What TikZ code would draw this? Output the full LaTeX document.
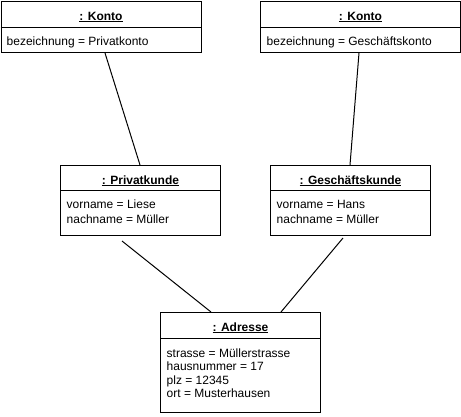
\documentclass[tikz,border=0pt]{standalone}
\usepackage{fontspec}
\setmainfont{Liberation Sans}
\usetikzlibrary{calc}
\tikzset{
  objbox/.style={draw=black, line width=1pt, fill=white, anchor=north west, inner sep=0pt},
  titletxt/.style={inner sep=0pt, anchor=mid, font=\fontsize{12}{14}\selectfont\bfseries},
  attrtxt/.style={inner sep=0pt, anchor=mid west, font=\fontsize{12}{14}\selectfont},
  link/.style={draw=black, line width=1pt}
}
\newcommand{\objtitle}[1]{\underline{#1}}
\begin{document}
\begin{tikzpicture}[x=1pt,y=-1pt]
\useasboundingbox[fill=white] (0,0) rectangle (461,416);
% Konto 1
\node[objbox, minimum width=200pt, minimum height=51pt] (k1) at (0.5,1) {};
\draw[link] ($(k1.north west)+(0,26)$) -- ($(k1.north east)+(0,26)$);
\node[titletxt] (k1t) at ($(k1.north)+(0,16.5)$) {\objtitle{: Konto}};
\node[attrtxt] (k1a) at (6.5,42.5) {bezeichnung = Privatkonto};
% Konto 2
\node[objbox, minimum width=200pt, minimum height=51pt] (k2) at (260,1) {};
\draw[link] ($(k2.north west)+(0,26)$) -- ($(k2.north east)+(0,26)$);
\node[titletxt] (k2t) at ($(k2.north)+(0,16.5)$) {\objtitle{: Konto}};
\node[attrtxt] (k2a) at (266.5,42.5) {bezeichnung = Geschäftskonto};
% Privatkunde
\node[objbox, minimum width=160pt, minimum height=70pt] (pk) at (60,165) {};
\draw[link] ($(pk.north west)+(0,25)$) -- ($(pk.north east)+(0,25)$);
\node[titletxt] (pkt) at ($(pk.north)+(0,16.5)$) {\objtitle{: Privatkunde}};
\node[attrtxt] (pka1) at (66.5,205.5) {vorname = Liese};
\node[attrtxt] (pka2) at (66.5,220.5) {nachname = Müller};
% Geschaeftskunde
\node[objbox, minimum width=160pt, minimum height=70pt] (gk) at (270,165) {};
\draw[link] ($(gk.north west)+(0,25)$) -- ($(gk.north east)+(0,25)$);
\node[titletxt] (gkt) at ($(gk.north)+(0,16.5)$) {\objtitle{: Geschäftskunde}};
\node[attrtxt] (gka1) at (276.5,205.5) {vorname = Hans};
\node[attrtxt] (gka2) at (276.5,220.5) {nachname = Müller};
% Adresse
\node[objbox, minimum width=160pt, minimum height=100pt] (ad) at (160,312) {};
\draw[link] ($(ad.north west)+(0,26)$) -- ($(ad.north east)+(0,26)$);
\node[titletxt] (adt) at ($(ad.north)+(0,16.5)$) {\objtitle{: Adresse}};
\node[attrtxt] (ada1) at (166.5,354.5) {strasse = Müllerstrasse};
\node[attrtxt] (ada2) at (166.5,368) {hausnummer = 17};
\node[attrtxt] (ada3) at (166.5,381.5) {plz = 12345};
\node[attrtxt] (ada4) at (166.5,395) {ort = Musterhausen};
% connectors
\draw[link] ($(k1.south west)+(104.5,0)$) -- ($(pk.north west)+(80,0)$);
\draw[link] ($(k2.south west)+(99,0)$) -- ($(gk.north west)+(80,0)$);
\draw[link] ($(pk.south west)+(62,5)$) -- ($(ad.north west)+(51,0)$);
\draw[link] ($(gk.south west)+(73,2)$) -- ($(ad.north west)+(121,0)$);
\end{tikzpicture}
\end{document}
